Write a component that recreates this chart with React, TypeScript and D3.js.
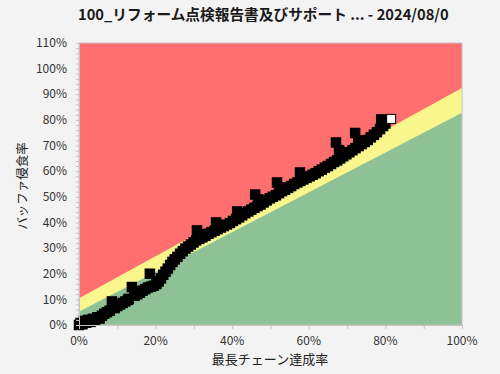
import React, { useEffect, useRef } from 'react';
import * as d3 from 'd3';

const title = '100_リフォーム点検報告書及びサポート ... - 2024/08/0';
const xTitle = '最長チェーン達成率';
const yTitle = 'バッファ侵食率';

const xTicks = [0, 20, 40, 60, 80, 100];
const yTicks = [0, 10, 20, 30, 40, 50, 60, 70, 80, 90, 100, 110];

// zone boundaries: [chain %, buffer %]
const greenLimit = [[0, 5.2], [100, 82.8]];
const yellowLimit = [[0, 10.4], [100, 92.4]];

// progress history: [chain completion %, buffer consumption %]
const history = [
  [0, 0], [0.4, 0.8], [0.9, 0.3], [1.3, 1.6], [1.9, 0.9], [2.4, 2.0], [3.0, 1.2],
  [3.6, 2.4], [4.2, 1.8], [4.8, 3.0], [5.4, 2.5], [6.0, 3.6], [6.6, 4.4], [7.3, 5.0],
  [8.0, 5.6], [8.6, 9.2], [9.3, 7.8], [9.3, 6.6], [10.0, 7.4], [10.7, 8.0], [11.4, 8.6], [12.1, 9.2],
  [12.8, 9.8], [13.0, 10.2], [13.8, 14.8], [14.5, 13.0], [14.5, 11.4], [15.2, 12.0], [15.9, 12.6],
  [16.6, 13.4], [17.3, 14.0], [18.0, 14.6], [18.5, 20.0], [18.8, 15.0], [19.5, 15.3],
  [20.2, 16.0], [20.8, 17.0], [21.4, 18.2], [22.0, 19.6], [22.6, 20.8], [23.2, 22.0],
  [23.8, 23.4], [24.4, 24.6], [25.0, 25.6], [25.7, 26.6], [26.4, 27.8], [27.1, 28.8],
  [27.8, 29.8], [28.5, 30.6], [29.2, 31.4], [29.9, 32.2], [30.6, 33.0], [30.8, 36.9],
  [31.6, 35.4], [31.4, 33.6], [32.2, 34.2], [33.0, 34.8], [33.8, 35.6], [34.6, 36.2], [35.4, 36.8],
  [35.8, 40.0], [36.6, 38.8], [36.2, 37.4], [37.0, 38.0], [37.8, 38.6], [38.6, 39.2], [39.4, 39.8],
  [40.2, 40.6], [41.0, 41.3], [41.3, 44.3], [42.1, 43.0], [41.8, 42.0], [42.6, 42.8], [43.4, 43.6],
  [44.2, 44.3], [45.0, 45.0], [45.8, 45.7], [46.0, 50.9], [46.8, 49.0], [47.6, 48.4], [46.6, 46.4], [47.4, 47.0],
  [48.2, 47.8], [49.0, 48.6], [49.8, 49.4], [50.6, 50.0], [51.4, 50.6], [51.7, 55.6],
  [52.5, 53.6], [53.3, 53.4], [52.2, 51.4], [53.0, 52.2], [53.8, 52.8], [54.6, 53.5], [55.4, 54.2], [56.2, 55.0],
  [57.0, 55.6], [57.7, 59.5], [58.5, 57.8], [57.8, 56.2], [58.6, 56.8], [59.4, 57.4], [60.2, 58.0],
  [61.0, 58.6], [61.8, 59.2], [62.6, 60.0], [63.4, 60.6], [64.2, 61.4], [65.0, 62.0],
  [65.8, 62.8], [66.6, 63.6], [67.1, 71.2], [67.9, 68.2], [68.7, 67.4], [67.4, 64.2], [68.2, 65.0], [69.0, 65.8],
  [69.8, 66.6], [70.6, 67.4], [71.4, 68.2], [72.1, 74.9], [72.9, 72.0], [73.7, 71.8], [72.2, 69.0], [73.0, 69.8],
  [73.8, 70.6], [74.6, 71.4], [75.4, 72.2], [76.2, 73.2], [77.0, 74.2], [77.8, 75.2],
  [78.6, 76.4], [78.9, 80.2], [79.7, 79.0], [79.4, 77.6], [80.0, 78.6],
];
const latest = [81.5, 80.4];

function App() {
  const chartRef = useRef(null);

  useEffect(() => {
    drawChart();
  }, []);

  const drawChart = () => {
    d3.select(chartRef.current).selectAll('*').remove();

    const width = 500;
    const height = 374;
    const margin = { top: 43, right: 38, bottom: 49, left: 79 };
    const innerW = width - margin.left - margin.right;
    const innerH = height - margin.top - margin.bottom;
    const font = "'Noto Sans CJK JP', 'Noto Sans', sans-serif";

    const svg = d3
      .select(chartRef.current)
      .append('svg')
      .attr('width', width)
      .attr('height', height)
      .style('position', 'absolute')
      .style('left', 0)
      .style('top', 0)
      .style('font-family', font);

    svg.append('rect').attr('width', width).attr('height', height).attr('fill', '#f3f3f3');

    svg
      .append('clipPath')
      .attr('id', 'titleClip')
      .append('rect')
      .attr('x', 0)
      .attr('y', 0)
      .attr('width', margin.left + innerW + 1)
      .attr('height', 40);

    svg
      .append('text')
      .attr('clip-path', 'url(#titleClip)')
      .attr('x', 78)
      .attr('y', 20)
      .attr('font-size', 14.7)
      .attr('font-weight', 'bold')
      .attr('fill', '#1a1a1a')
      .text(title);

    const x = d3.scaleLinear().domain([0, 100]).range([0, innerW]);
    const y = d3.scaleLinear().domain([0, 110]).range([innerH, 0]);

    const g = svg.append('g').attr('transform', `translate(${margin.left},${margin.top})`);

    // red zone covers everything
    g.append('rect').attr('width', innerW).attr('height', innerH).attr('fill', '#ff6f6f');

    const area = d3
      .area()
      .x((d) => x(d[0]))
      .y0(innerH)
      .y1((d) => y(d[1]));

    g.append('path').datum(yellowLimit).attr('d', area).attr('fill', '#f8f68c');
    g.append('path').datum(greenLimit).attr('d', area).attr('fill', '#8ec196');

    g.append('rect')
      .attr('width', innerW)
      .attr('height', innerH)
      .attr('fill', 'none')
      .attr('stroke', '#c4c4c4');

    // markers
    const size = 10.5;
    g.selectAll('.pt')
      .data(history)
      .enter()
      .append('rect')
      .attr('class', 'pt')
      .attr('x', (d) => x(d[0]) - size / 2)
      .attr('y', (d) => y(d[1]) - size / 2)
      .attr('width', size)
      .attr('height', size)
      .attr('fill', '#000');

    g.append('rect')
      .attr('x', x(latest[0]) - 4.5)
      .attr('y', y(latest[1]) - 4.5)
      .attr('width', 9)
      .attr('height', 9)
      .attr('fill', '#fff')
      .attr('stroke', '#000')
      .attr('stroke-width', 1);

    // axes
    const yAxis = g.append('g').call(
      d3
        .axisLeft(y)
        .tickValues(d3.range(0, 111, 2))
        .tickSize(3)
        .tickFormat(() => '')
    );
    yAxis.select('.domain').attr('stroke', '#c4c4c4');
    yAxis.selectAll('line').attr('stroke', '#c4c4c4');

    const xAxis = g
      .append('g')
      .attr('transform', `translate(0,${innerH})`)
      .call(d3.axisBottom(x).tickValues(d3.range(0, 101, 10)).tickSize(4).tickFormat(() => ''));
    xAxis.select('.domain').attr('stroke', '#c4c4c4');
    xAxis.selectAll('line').attr('stroke', '#c4c4c4');

    g.selectAll('.ylab')
      .data(yTicks)
      .enter()
      .append('text')
      .attr('class', 'ylab')
      .attr('x', -12)
      .attr('y', (d) => y(d))
      .attr('dy', '0.35em')
      .attr('text-anchor', 'end')
      .attr('font-size', 12)
      .attr('fill', '#333')
      .text((d) => `${d}%`);

    g.selectAll('.xlab')
      .data(xTicks)
      .enter()
      .append('text')
      .attr('class', 'xlab')
      .attr('x', (d) => x(d))
      .attr('y', innerH + 16)
      .attr('dy', '0.35em')
      .attr('text-anchor', 'middle')
      .attr('font-size', 12)
      .attr('fill', '#333')
      .text((d) => `${d}%`);

    svg
      .append('text')
      .attr('x', 270)
      .attr('y', 359)
      .attr('dy', '0.35em')
      .attr('text-anchor', 'middle')
      .attr('font-size', 13)
      .attr('fill', '#222')
      .text(xTitle);

    svg
      .append('text')
      .attr('transform', 'translate(23,186) rotate(-90)')
      .attr('dy', '0.35em')
      .attr('text-anchor', 'middle')
      .attr('font-size', 12.5)
      .attr('fill', '#222')
      .text(yTitle);
  };

  return <div ref={chartRef} />;
}

export default App;
